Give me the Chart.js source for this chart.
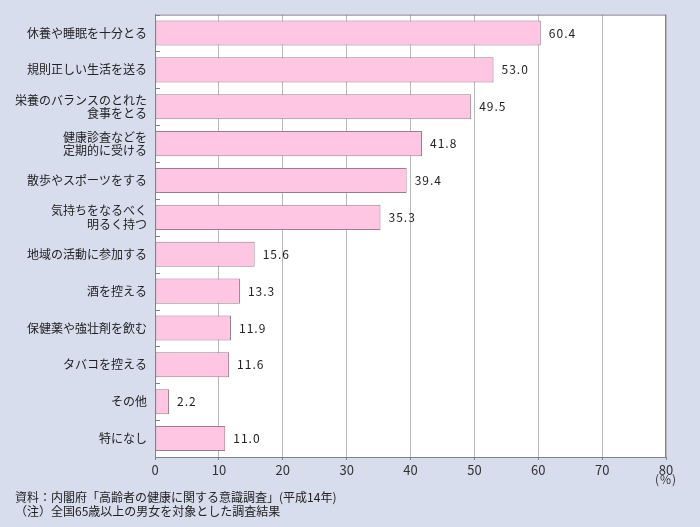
<!DOCTYPE html>
<html lang="ja">
<head>
<meta charset="utf-8">
<script src="https://cdn.jsdelivr.net/npm/chart.js@4.4.0/dist/chart.umd.min.js"></script>
<style>
    body { margin: 0; background: #d8ddee; }
    #wrap { position: relative; width: 700px; height: 527px; }
    .note {
        position: absolute; left: 15px; font: 12px "Noto Sans CJK JP", sans-serif;
        color: #222; white-space: nowrap; line-height: 14px;
    }
    #unit { position: absolute; left: 655px; top: 470px; font: 12px "Noto Sans CJK JP", sans-serif; color: #333; letter-spacing: 1px; }
</style>
</head>
<body>
<div id="wrap">
    <canvas id="chart" width="700" height="527"></canvas>
    <div id="unit">(%)</div>
    <div class="note" style="top:490px">資料：内閣府「高齢者の健康に関する意識調査」(平成14年)</div>
    <div class="note" style="top:504px">（注）全国65歳以上の男女を対象とした調査結果</div>
</div>
<script>
// --- data ---
const categories = [
    '休養や睡眠を十分とる',
    '規則正しい生活を送る',
    ['栄養のバランスのとれた', '食事をとる'],
    ['健康診査などを', '定期的に受ける'],
    '散歩やスポーツをする',
    ['気持ちをなるべく', '明るく持つ'],
    '地域の活動に参加する',
    '酒を控える',
    '保健薬や強壮剤を飲む',
    'タバコを控える',
    'その他',
    '特になし'
];
const values = [60.4, 53.0, 49.5, 41.8, 39.4, 35.3, 15.6, 13.3, 11.9, 11.6, 2.2, 11.0];
const xTicks = [0, 10, 20, 30, 40, 50, 60, 70, 80];

const FONT = '"Noto Sans CJK JP", sans-serif';

// white plot area + box border + small category ticks inside
const plotFrame = {
    id: 'plotFrame',
    beforeDraw(chart) {
        const { ctx, chartArea: a } = chart;
        ctx.save();
        ctx.fillStyle = '#ffffff';
        ctx.fillRect(a.left, a.top, a.right - a.left, a.bottom - a.top);
        ctx.restore();
    },
    afterDraw(chart) {
        const { ctx, chartArea: a } = chart;
        const y = chart.scales.y;
        ctx.save();
        ctx.strokeStyle = '#7f7f8f';
        ctx.lineWidth = 1;
        ctx.beginPath();
        ctx.moveTo(a.left, a.top + 0.5);
        ctx.lineTo(a.right, a.top + 0.5);
        ctx.moveTo(a.right - 0.5, a.top);
        ctx.lineTo(a.right - 0.5, a.bottom);
        // boundaries between categories
        for (let i = 0; i <= categories.length; i++) {
            const py = Math.round(y.getPixelForValue(i - 0.5)) + 0.5;
            ctx.moveTo(a.left, py);
            ctx.lineTo(a.left + 5, py);
        }
        ctx.stroke();
        ctx.restore();
    }
};

// value labels at bar ends
const valueLabels = {
    id: 'valueLabels',
    afterDatasetsDraw(chart) {
        const { ctx } = chart;
        const meta = chart.getDatasetMeta(0);
        ctx.save();
        ctx.font = '12px ' + FONT;
        ctx.letterSpacing = '1px';
        ctx.fillStyle = '#222';
        ctx.textBaseline = 'middle';
        meta.data.forEach((bar, i) => {
            ctx.fillText(values[i].toFixed(1), bar.x + 8, bar.y);
        });
        ctx.restore();
    }
};

new Chart(document.getElementById('chart'), {
    type: 'bar',
    data: {
        labels: categories,
        datasets: [{
            data: values,
            backgroundColor: '#ffc6e4',
            borderColor: '#9b7d8f',
            borderWidth: 1,
            borderSkipped: false,
            barPercentage: 0.68,
            categoryPercentage: 1
        }]
    },
    options: {
        indexAxis: 'y',
        responsive: false,
        animation: false,
        layout: { padding: { top: 11, right: 34, bottom: 48, left: 0 } },
        plugins: { legend: { display: false }, tooltip: { enabled: false } },
        scales: {
            x: {
                min: 0, max: 80,
                afterBuildTicks: s => { s.ticks = xTicks.map(v => ({ value: v })); },
                afterFit: s => { s.height = 22; },
                grid: { color: '#b8b8b8', tickLength: 3, tickColor: '#7f7f8f' },
                border: { color: '#7f7f8f' },
                ticks: { color: '#333', font: { family: FONT, size: 13 }, padding: 2 }
            },
            y: {
                afterFit: s => { s.width = 155; },
                grid: { display: false, drawTicks: false },
                border: { color: '#7f7f8f' },
                ticks: {
                    color: '#222', padding: 8,
                    font: { family: FONT, size: 12, lineHeight: 1.1 }
                }
            }
        }
    },
    plugins: [plotFrame, valueLabels]
});
</script>
</body>
</html>
